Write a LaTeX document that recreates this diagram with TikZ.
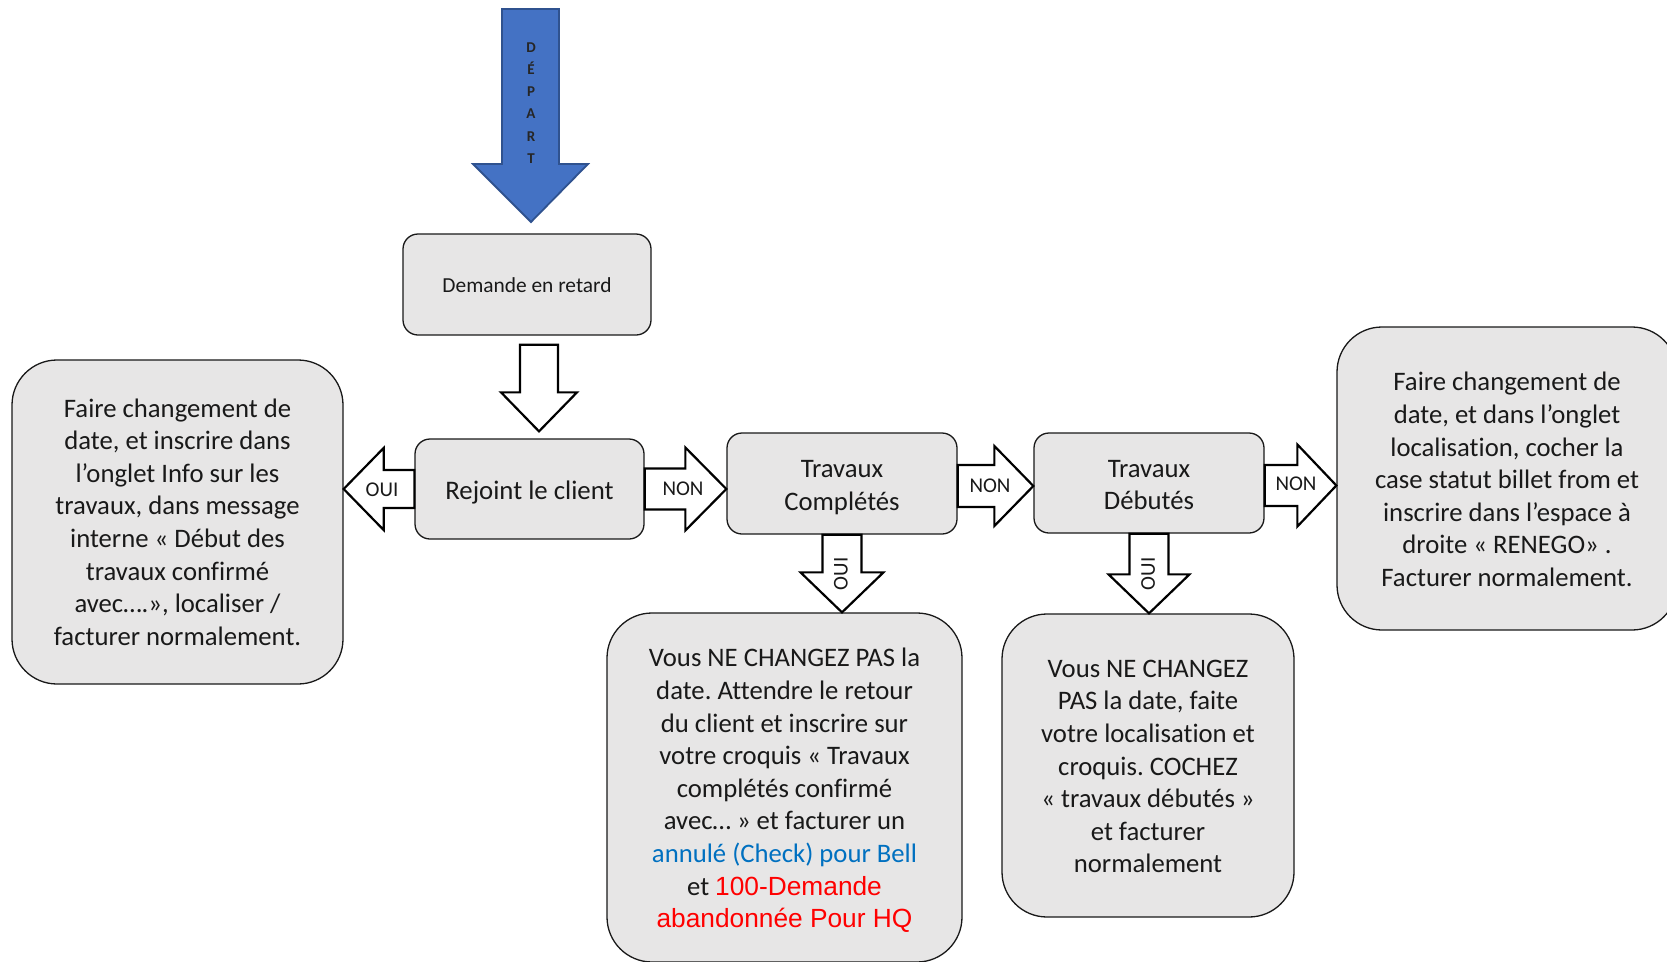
\documentclass[tikz,border=0pt]{standalone}
\usepackage{fontspec}
\setmainfont{Carlito}[Ligatures=NoCommon]
\newfontfamily\arialf{Liberation Sans}
\usetikzlibrary{calc}
\definecolor{boxgray}{HTML}{E7E6E6}
\definecolor{depblue}{HTML}{4472C4}
\definecolor{depborder}{HTML}{2F528F}
\definecolor{txtblue}{HTML}{0070C0}
\definecolor{txtred}{HTML}{FF0000}
% horizontal block arrow: from (#1) to tip at x of (#2); shaft half #3, head half #4, head length #5
\newcommand\hblockarrow[5]{%
  \draw[barrow] let \p1=(#1), \p2=(#2) in
    (\x1,{\y1+#3}) -- ({\x2-(#5)},{\y1+#3}) -- ({\x2-(#5)},{\y1+#4}) -- (\x2,\y1)
    -- ({\x2-(#5)},{\y1-#4}) -- ({\x2-(#5)},{\y1-#3}) -- (\x1,{\y1-#3}) -- cycle;}
% vertical (downward) block arrow: from (#1) to tip at y of (#2)
\newcommand\vblockarrow[5]{%
  \draw[barrow] let \p1=(#1), \p2=(#2) in
    ({\x1-#3},\y1) -- ({\x1-#3},{\y2+#5}) -- ({\x1-#4},{\y2+#5}) -- (\x1,\y2)
    -- ({\x1+#4},{\y2+#5}) -- ({\x1+#3},{\y2+#5}) -- ({\x1+#3},\y1) -- cycle;}
\begin{document}
\frenchspacing
\begin{tikzpicture}[x=1pt,y=-1pt,
  box/.style={draw=black!90, fill=boxgray, line width=1.3pt, inner sep=0pt},
  smallbox/.style={box, rounded corners=15pt},
  bigbox/.style={box, rounded corners=45pt},
  txt/.style={align=center, inner sep=0pt, text=black!90},
  bigtxt/.style={txt, font=\fontsize{26.7}{32.6}\selectfont},
  midtxt/.style={txt, font=\fontsize{26.7}{32.8}\selectfont},
  barrow/.style={draw=black, fill=white, line width=2.2pt, line join=miter},
  lbl/.style={font=\fontsize{21}{24}\selectfont, inner sep=0pt, text=black!90}]
\useasboundingbox (0,0) rectangle (1667,961);
\clip (0,0) rectangle (1667,961);

% DEPART arrow
\draw[fill=depblue, draw=depborder, line width=1.8pt]
  (502,9) -- (559,9) -- (559,164) -- (588,164) -- (531,222) -- (473,164) -- (502,164) -- cycle;
\node[font=\bfseries\fontsize{15}{22.2}\selectfont, align=center, text=black!85, inner sep=0pt] (dep) at (531,103) {D\\É\\P\\A\\R\\T};

% boxes
\node[smallbox, minimum width=248pt, minimum height=101pt] (dem) at (527,284.5) {};
\node[txt, font=\fontsize{21.4}{25}\selectfont] (demT) at ($(dem.center)+(0,1)$) {Demande en retard};
\node[smallbox, minimum width=229pt, minimum height=100pt] (rej) at (529.5,489) {};
\node[txt, font=\fontsize{26.8}{32}\selectfont] (rejT) at ($(rej.center)+(0,3)$) {Rejoint le client};
\node[smallbox, minimum width=230pt, minimum height=101pt] (comp) at (842,483.5) {};
\node[midtxt] (compT) at ($(comp.center)+(0,4)$) {Travaux\\Complétés};
\node[smallbox, minimum width=230pt, minimum height=100pt] (deb) at (1149,483) {};
\node[midtxt] (debT) at ($(deb.center)+(0,2)$) {Travaux\\Débutés};

\node[bigbox, minimum width=331pt, minimum height=324pt] (left) at (177.5,522) {};
\node[bigtxt] (leftT) at (left.center) {Faire changement de\\date, et inscrire dans\\l’onglet Info sur les\\travaux, dans message\\interne « Début des\\travaux confirmé\\avec….», localiser /\\facturer normalement.};

\node[bigbox, minimum width=340pt, minimum height=303pt] (right) at (1507,478.5) {};
\node[bigtxt] (rightT) at ($(right.center)+(0,1)$) {Faire changement de\\date, et dans l’onglet\\localisation, cocher la\\case statut billet from et\\inscrire dans l’espace à\\droite « RENEGO» .\\Facturer normalement.};

\node[bigbox, minimum width=355pt, minimum height=349pt] (bm) at (784.5,787.5) {};
\node[bigtxt] (bmT) at ($(bm.center)+(0,3)$) {Vous NE CHANGEZ PAS la\\date. Attendre le retour\\du client et inscrire sur\\votre croquis « Travaux\\complétés confirmé\\avec… » et facturer un\\{\color{txtblue}annulé (Check) pour Bell}\\et {\arialf\fontsize{26.3}{32.6}\selectfont\color{txtred}100-Demande}\\{\arialf\fontsize{26.3}{32.6}\selectfont\color{txtred}abandonnée Pour HQ}};

\node[bigbox, minimum width=292pt, minimum height=303pt] (br) at (1148,765.5) {};
\node[bigtxt] (brT) at ($(br.center)+(0,1)$) {Vous NE CHANGEZ\\PAS la date, faite\\votre localisation et\\croquis. COCHEZ\\« travaux débutés »\\et facturer\\normalement};

% block arrows
\vblockarrow{$(dem.south)+(12,9)$}{$(rej.north)+(0,-7)$}{19pt}{38pt}{39pt}
\hblockarrow{rej.west}{left.east}{19pt}{41pt}{-40pt}
\hblockarrow{rej.east}{comp.west}{20.5pt}{41.5pt}{41pt}
\hblockarrow{$(comp.east)+(0,2.5)$}{deb.west}{21pt}{40pt}{39pt}
\hblockarrow{$(deb.east)+(0,2.5)$}{right.west}{20.5pt}{41pt}{39pt}
\vblockarrow{comp.south}{bm.north}{19.5pt}{41.5pt}{40pt}
\vblockarrow{deb.south}{br.north}{19.5pt}{40.5pt}{39pt}

% labels
\node[lbl] (ouiL) at (382,490) {OUI};
\node[lbl] (nonA) at (683,489) {NON};
\node[lbl] (nonB) at (990,486) {NON};
\node[lbl] (nonC) at (1296,484) {NON};
\node[lbl, rotate=90] (ouiB) at (841,574) {OUI};
\node[lbl, rotate=90] (ouiC) at (1148,574) {OUI};
\end{tikzpicture}
\end{document}
